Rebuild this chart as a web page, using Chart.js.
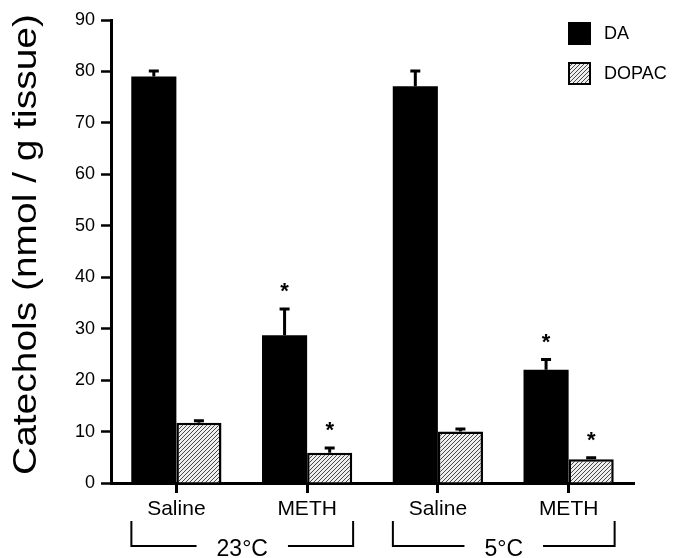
<!DOCTYPE html>
<html>
<head>
<meta charset="utf-8">
<script src="https://cdn.jsdelivr.net/npm/chart.js@4"></script>
<style>
  body { margin: 0; background: #fff; }
  #wrap { width: 681px; height: 558px; position: relative; }
</style>
</head>
<body>
<div id="wrap"><canvas id="chart1"></canvas></div>
<script>
const categories = ["Saline", "METH", "Saline", "METH"];
const daValues = [79.0, 28.7, 77.1, 22.0];
const daErrors = [1.1, 5.1, 3.0, 2.0];
const dopacValues = [11.7, 5.9, 10.0, 4.6];
const dopacErrors = [0.4, 0.9, 0.5, 0.3];
const daSignif = [false, true, false, true];
const dopacSignif = [false, true, false, true];
const groupLabels = ["23°C", "5°C"];
const groupMembers = [[0, 1], [2, 3]];
const yTitle = "Catechols (nmol / g tissue)";

const FONT = '"Liberation Sans", Arial, sans-serif';
Chart.defaults.font.family = FONT;
Chart.defaults.color = "#000";

// hatch fill for DOPAC bars
function hatch() {
  const c = document.createElement("canvas");
  c.width = 4;
  c.height = 4;
  const g = c.getContext("2d");
  g.fillStyle = "#eeeeee";
  g.fillRect(0, 0, 4, 4);
  g.strokeStyle = "#333";
  g.lineWidth = 0.9;
  g.beginPath();
  g.moveTo(0, 4); g.lineTo(4, 0);
  g.moveTo(-1, 1); g.lineTo(1, -1);
  g.moveTo(3, 5); g.lineTo(5, 3);
  g.stroke();
  return g.createPattern(c, "repeat");
}
const hatchFill = hatch();

const errorBars = {
  id: "errorBars",
  afterDatasetsDraw(chart) {
    const ctx = chart.ctx;
    const y = chart.scales.y;
    chart.data.datasets.forEach((ds, i) => {
      chart.getDatasetMeta(i).data.forEach((bar, j) => {
        const top = y.getPixelForValue(ds.data[j] + ds.errors[j]);
        ctx.save();
        ctx.strokeStyle = "#000";
        ctx.lineWidth = 3;
        ctx.beginPath();
        ctx.moveTo(bar.x, bar.y);
        ctx.lineTo(bar.x, top);
        ctx.moveTo(bar.x - 5, top);
        ctx.lineTo(bar.x + 5, top);
        ctx.stroke();
        if (ds.signif[j]) {
          ctx.fillStyle = "#000";
          ctx.font = "bold 22px " + FONT;
          ctx.textAlign = "center";
          ctx.textBaseline = "alphabetic";
          ctx.fillText("*", bar.x, top - 11);
        }
        ctx.restore();
      });
    });
  }
};

const extras = {
  id: "extras",
  afterDraw(chart) {
    const ctx = chart.ctx;
    const x = chart.scales.x;
    const area = chart.chartArea;
    ctx.save();
    ctx.fillStyle = "#000";
    ctx.strokeStyle = "#000";

    // y title, a bit stretched along its length like the original
    ctx.save();
    ctx.translate(36, (area.top + area.bottom) / 2 - 7);
    ctx.rotate(-Math.PI / 2);
    ctx.scale(1.18, 1);
    ctx.font = "33px " + FONT;
    ctx.textAlign = "center";
    ctx.textBaseline = "alphabetic";
    ctx.fillText(yTitle, 0, 0);
    ctx.restore();

    // group brackets under the x labels
    ctx.lineWidth = 2;
    ctx.font = "23px " + FONT;
    ctx.textAlign = "center";
    ctx.textBaseline = "middle";
    groupMembers.forEach((m, k) => {
      const l = x.getPixelForValue(m[0]) - 45;
      const r = x.getPixelForValue(m[m.length - 1]) + 46;
      const mid = (l + r) / 2;
      const yl = 546;
      const w = ctx.measureText(groupLabels[k]).width / 2 + 20;
      ctx.beginPath();
      ctx.moveTo(l, 521); ctx.lineTo(l, yl); ctx.lineTo(mid - w, yl);
      ctx.moveTo(mid + w, yl); ctx.lineTo(r, yl); ctx.lineTo(r, 521);
      ctx.stroke();
      ctx.fillText(groupLabels[k], mid, yl + 4);
    });

    // legend
    ctx.font = "18px " + FONT;
    ctx.textAlign = "left";
    chart.data.datasets.forEach((ds, i) => {
      const top = 22 + i * 40;
      ctx.fillStyle = ds.backgroundColor;
      ctx.fillRect(568, top, 23, 23);
      if (ds.borderWidth) {
        ctx.lineWidth = 2;
        ctx.strokeRect(569, top + 1, 21, 21);
      }
      ctx.fillStyle = "#000";
      ctx.fillText(ds.label, 604, top + 12);
    });
    ctx.restore();
  }
};

new Chart(document.getElementById("chart1"), {
  type: "bar",
  data: {
    labels: categories,
    datasets: [
      {
        label: "DA",
        data: daValues,
        errors: daErrors,
        signif: daSignif,
        backgroundColor: "#000",
        borderWidth: 0,
        categoryPercentage: 0.69,
        barPercentage: 1.0,
      },
      {
        label: "DOPAC",
        data: dopacValues,
        errors: dopacErrors,
        signif: dopacSignif,
        backgroundColor: hatchFill,
        borderColor: "#000",
        borderWidth: 2.5,
        categoryPercentage: 0.69,
        barPercentage: 1.0,
      },
    ],
  },
  options: {
    responsive: true,
    maintainAspectRatio: false,
    animation: false,
    layout: { padding: { top: 20, right: 47, bottom: 0, left: 0 } },
    plugins: { legend: { display: false }, tooltip: { enabled: false } },
    scales: {
      x: {
        grid: {
          offset: false,
          drawOnChartArea: false,
          tickLength: 10,
          tickWidth: 3,
          tickColor: "#000",
        },
        border: { color: "#000", width: 3 },
        ticks: { font: { size: 21 }, padding: 4, color: "#000" },
        afterFit(s) { s.height = 75; },
      },
      y: {
        min: 0,
        max: 90,
        grid: {
          drawOnChartArea: false,
          tickLength: 10,
          tickWidth: 2.5,
          tickColor: "#000",
        },
        border: { color: "#000", width: 3 },
        ticks: { stepSize: 10, font: { size: 18 }, padding: 6, color: "#000" },
        afterFit(s) { s.width = 111; },
      },
    },
  },
  plugins: [errorBars, extras],
});
</script>
</body>
</html>
